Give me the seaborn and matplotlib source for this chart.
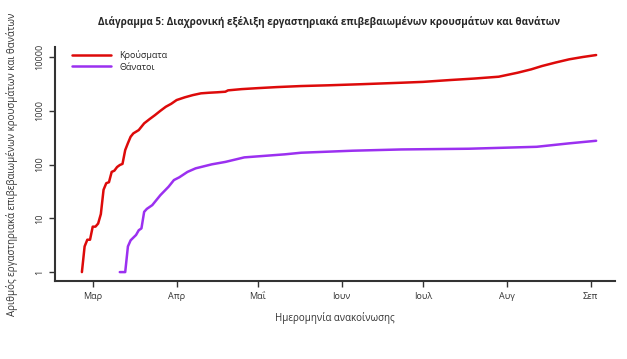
import numpy as np
import pandas as pd
import matplotlib.pyplot as plt
import matplotlib.dates as mdates
import seaborn as sns

# Cumulative confirmed cases
case_dates = ['2020-02-26', '2020-02-27', '2020-02-28', '2020-02-29', '2020-03-01',
              '2020-03-02', '2020-03-03', '2020-03-04', '2020-03-05', '2020-03-06',
              '2020-03-07', '2020-03-08', '2020-03-09', '2020-03-10', '2020-03-11',
              '2020-03-12', '2020-03-13', '2020-03-14', '2020-03-15', '2020-03-16',
              '2020-03-17', '2020-03-18', '2020-03-20', '2020-03-22', '2020-03-24',
              '2020-03-26', '2020-03-28', '2020-03-30', '2020-04-01', '2020-04-04',
              '2020-04-07', '2020-04-10', '2020-04-13', '2020-04-16', '2020-04-19',
              '2020-04-20', '2020-04-25', '2020-05-01', '2020-05-08', '2020-05-17',
              '2020-05-27', '2020-06-08', '2020-06-23', '2020-07-01', '2020-07-11',
              '2020-07-20', '2020-07-29', '2020-08-05', '2020-08-10', '2020-08-14',
              '2020-08-19', '2020-08-24', '2020-08-29', '2020-09-03']
cases = [1, 3, 4, 4, 7,
         7, 8, 12, 34, 45,
         47, 73, 77, 90, 98,
         103, 186, 250, 329, 380,
         408, 438, 584, 700, 831,
         1000, 1189, 1350, 1585, 1780,
         1960, 2113, 2168, 2210, 2264,
         2400, 2530, 2640, 2760, 2887,
         2980, 3120, 3326, 3450, 3733,
         3980, 4305, 5110, 5900, 6806,
         7900, 9060, 10000, 10890]

# Cumulative deaths
death_dates = ['2020-03-11', '2020-03-13', '2020-03-14', '2020-03-15', '2020-03-17',
               '2020-03-18', '2020-03-19', '2020-03-20', '2020-03-21', '2020-03-23',
               '2020-03-26', '2020-03-29', '2020-03-31', '2020-04-02', '2020-04-05',
               '2020-04-08', '2020-04-14', '2020-04-19', '2020-04-26', '2020-05-11',
               '2020-05-17', '2020-06-05', '2020-06-23', '2020-07-18', '2020-08-12',
               '2020-08-24', '2020-09-03']
deaths = [1, 1, 3, 3.9, 4.9,
          6, 6.5, 13.2, 15, 17.6,
          27, 38.6, 51.5, 58, 73,
          85, 101, 112, 136, 155,
          166, 181, 191, 197, 214,
          248, 277]

df = pd.concat([
    pd.DataFrame({'date': pd.to_datetime(case_dates), 'value': cases, 'series': 'Κρούσματα'}),
    pd.DataFrame({'date': pd.to_datetime(death_dates), 'value': deaths, 'series': 'Θάνατοι'}),
])

sns.set_theme(style='white')
plt.rcParams['font.family'] = ['Open Sans', 'DejaVu Sans']

fig = plt.figure(figsize=(6.27, 3.59), dpi=100)
ax = fig.add_axes([0.088, 0.217, 0.893, 0.652])

sns.lineplot(data=df, x='date', y='value', hue='series',
             palette={'Κρούσματα': '#DD0A0A', 'Θάνατοι': '#9B30F0'},
             linewidth=1.8, ax=ax)

ax.set_yscale('log')
ax.set_ylim(0.68, 15350)
ax.set_xlim(pd.Timestamp('2020-02-16 03:00'), pd.Timestamp('2020-09-10'))
ax.set_yticks([1, 10, 100, 1000, 10000])
ax.set_yticklabels(['1', '10', '100', '1000', '10000'], rotation=90, va='center')
ax.minorticks_off()

ax.set_xticks(pd.to_datetime(['2020-03-01', '2020-04-01', '2020-05-01', '2020-06-01',
                              '2020-07-01', '2020-08-01', '2020-09-01']))
ax.set_xticklabels(['Μαρ', 'Απρ', 'Μαΐ', 'Ιουν', 'Ιουλ', 'Αυγ', 'Σεπ'])

ax.tick_params(axis='both', which='major', length=4, width=1, color='#333333',
               labelsize=6.5, labelcolor='#333333', bottom=True, left=True, pad=4)
for side in ['top', 'right']:
    ax.spines[side].set_visible(False)
for side in ['left', 'bottom']:
    ax.spines[side].set_color('#333333')
    ax.spines[side].set_linewidth(1.5)

ax.set_xlabel('Ημερομηνία ανακοίνωσης', fontsize=7, color='#333333', labelpad=8)
ax.set_ylabel('Αριθμός εργαστηριακά επιβεβαιωμένων κρουσμάτων και θανάτων',
              fontsize=7, color='#333333', labelpad=12)
fig.suptitle('Διάγραμμα 5: Διαχρονική εξέλιξη εργαστηριακά επιβεβαιωμένων κρουσμάτων και θανάτων',
             fontsize=7.1, fontweight='bold', x=0.525, y=0.955)

ax.legend(loc='upper left', bbox_to_anchor=(0.015, 1.02), frameon=False, title=None,
          fontsize=6.5, handlelength=4.4, handletextpad=0.9, labelspacing=0.25)

fig.savefig('out.png', dpi=100)
plt.close(fig)
